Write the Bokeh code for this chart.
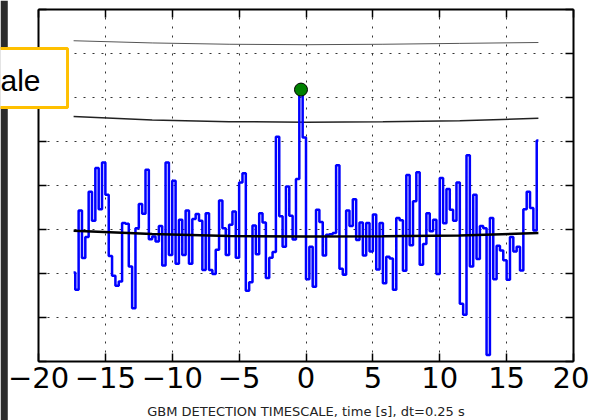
from bokeh.plotting import figure
from bokeh.models import Range1d, FixedTicker, LinearAxis, Label, Grid
from bokeh.embed import file_html
from bokeh.resources import INLINE
import numpy as np

# Binned light curve (signal-to-noise per 0.25 s bin), bin centres from -17.375 s
dt = 0.25
t_start = -17.375
snr = [
    -0.98, -1.37, 0.43, -0.65, -0.17, 0.86, 0.20, 1.40, 0.46, 1.52,
    0.79, -0.60, -1.05, -1.28, -1.18, 0.15, 0.13, -0.84, -1.79, 0.03,
    0.58, 0.36, 1.36, -0.22, -0.16, -0.27, 0.08, -0.82, 1.52, -0.58,
    1.11, -0.78, 0.22, -0.58, 0.43, -0.78, 0.24, 0.35, 0.20, -0.92,
    0.37, -0.92, -1.01, -0.46, 0.66, 0.03, -0.58, 0.11, 0.41, -0.64,
    1.07, 1.28, -1.39, -1.20, 0.09, -0.56, 0.37, 0.16, -1.10, -0.64,
    -0.51, 2.11, 0.30, -0.39, 0.98, 0.31, -0.23, 1.15, 3.18, 2.09,
    -1.13, -0.39, -1.30, 0.45, 0.17, -0.59, -0.12, -0.11, -0.08, 1.46,
    -0.89, -1.03, 0.43, 0.08, 0.69, -0.24, 0.16, -0.59, 0.15, -0.50,
    0.34, -0.91, 0.15, -1.22, -0.62, -0.66, -1.37, 0.26, 0.21, -0.94,
    1.24, -0.36, 0.64, 1.30, -0.80, -0.33, 0.37, -0.04, 0.22, -1.01,
    1.17, 0.14, 0.92, 0.45, 0.20, 1.07, -1.69, -1.94, 1.69, -0.84,
    0.79, -0.67, 0.08, 0.03, -2.85, 0.26, -1.13, -0.37, -0.48, -0.70,
    -1.14, -0.17, -0.50, -0.39, -0.93, 0.46, 0.86, 0.49, -0.02, 2.02,
]
time = t_start + dt * np.arange(len(snr))

# Background model and detection thresholds, sampled along the window
curve_t = [-17.375, -11.5, -5.75, 0.0, 5.75, 11.5, 17.375]
background = [-0.03, -0.10, -0.15, -0.16, -0.155, -0.135, -0.08]
threshold_low = [2.57, 2.49, 2.45, 2.44, 2.45, 2.47, 2.53]
threshold_high = [4.29, 4.24, 4.21, 4.20, 4.21, 4.23, 4.25]

x_ticks = [-20, -15, -10, -5, 0, 5, 10, 15, 20]
y_ticks = [-3, -2, -1, 0, 1, 2, 3, 4, 5]
x_lo, x_hi = -20, 20
y_lo, y_hi = -3, 5

W, H = 589, 420
# axes box in canvas pixels; the plotting area spans the whole canvas so that
# the callout and edge strip can be drawn left of the axes box
box_left, box_right, box_top, box_bottom = 38, 573, 9, 361
px_x = (box_right - box_left) / (x_hi - x_lo)
px_y = (box_bottom - box_top) / (y_hi - y_lo)
x_range = Range1d(x_lo - box_left / px_x, x_hi + (W - box_right) / px_x)
y_range = Range1d(y_lo - (H - box_bottom) / px_y, y_hi + box_top / px_y)

p = figure(width=W, height=H, x_range=x_range, y_range=y_range,
           output_backend="svg", toolbar_location=None, min_border=0,
           min_border_left=0, min_border_right=0, min_border_top=0, min_border_bottom=0)
p.background_fill_color = "white"
p.border_fill_color = "white"
p.outline_line_color = None

p.add_layout(LinearAxis(), "above")
p.add_layout(LinearAxis(), "right")

p.below[0].fixed_location = y_lo
p.above[0].fixed_location = y_hi
p.left[0].fixed_location = x_lo
p.right[0].fixed_location = x_hi

for ax in p.axis:
    ax.axis_line_color = "black"
    ax.axis_line_width = 2
    ax.major_tick_in = 8
    ax.major_tick_out = 0
    ax.major_tick_line_color = "black"
    ax.major_tick_line_width = 1.5
    ax.minor_tick_line_color = None

for ax in p.xaxis:
    ax.ticker = FixedTicker(ticks=x_ticks)
    ax.bounds = (x_lo, x_hi)
for ax in p.yaxis:
    ax.ticker = FixedTicker(ticks=y_ticks)
    ax.bounds = (y_lo, y_hi)

# frame-only axes: ticks without labels
for ax in p.above + p.left + p.right:
    ax.major_label_text_color = None
    ax.major_label_text_font_size = "1px"
    ax.major_label_standoff = 0

bottom = p.below[0]
bottom.major_label_text_font = "DejaVu Sans"
bottom.major_label_text_font_size = "29px"
bottom.major_label_text_color = "black"
bottom.major_label_standoff = 5
bottom.major_label_overrides = {t: (f"\u2212{abs(t)}" if t < 0 else str(t)) for t in x_ticks}
bottom.axis_label = "GBM DETECTION TIMESCALE, time [s], dt=0.25 s"
bottom.axis_label_text_font = "DejaVu Sans"
bottom.axis_label_text_font_size = "13px"
bottom.axis_label_text_font_style = "normal"
bottom.axis_label_text_color = "#222222"
bottom.axis_label_standoff = 13

grid_style = dict(grid_line_color="#333333", grid_line_dash="2 7", grid_line_width=1)
if "cross_bounds" in Grid.properties():
    p.xgrid.bounds = (x_lo, x_hi)
    p.ygrid.bounds = (y_lo, y_hi)
    p.xgrid.cross_bounds = (y_lo, y_hi)
    p.ygrid.cross_bounds = (x_lo, x_hi)
    for g in (p.xgrid[0], p.ygrid[0]):
        for k, v in grid_style.items():
            setattr(g, k, v)
else:
    p.xgrid.visible = False
    p.ygrid.visible = False
    p.segment(x0=x_ticks, y0=[y_lo] * len(x_ticks), x1=x_ticks, y1=[y_hi] * len(x_ticks),
              line_color="#333333", line_dash="2 7", line_width=1)
    p.segment(x0=[x_lo] * len(y_ticks), y0=y_ticks, x1=[x_hi] * len(y_ticks), y1=y_ticks,
              line_color="#333333", line_dash="2 7", line_width=1)

p.line(curve_t, threshold_high, line_color="#555555", line_width=1)
p.line(curve_t, threshold_low, line_color="#222222", line_width=1.5)
p.step(time, snr, mode="center", line_color="#0000ff", line_width=2.5)
p.line(curve_t, background, line_color="black", line_width=2.5)

peak = int(np.argmax(snr))
p.scatter([time[peak]], [snr[peak]], size=13, fill_color="#008000",
          line_color="black", line_width=1)

# dark edge strip on the left (screen units: x from left, y up from bottom)
p.add_layout(Label(x=0, y=H, x_units="screen", y_units="screen", anchor="top_left",
                   text=" ", text_font_size="1px",
                   background_fill_color="#2b2b2b",
                   padding=dict(top=0, right=7, bottom=H, left=0)))

# callout box
p.add_layout(Label(x=-10, y=H - 48, x_units="screen", y_units="screen", anchor="top_left",
                   text="ale", text_font="Liberation Sans", text_font_size="30px",
                   text_color="black",
                   background_fill_color="white", border_line_color="#FFC000",
                   border_line_width=3,
                   padding=dict(top=15, right=27, bottom=11, left=10)))

open("out.html", "w").write(file_html(p, INLINE))
